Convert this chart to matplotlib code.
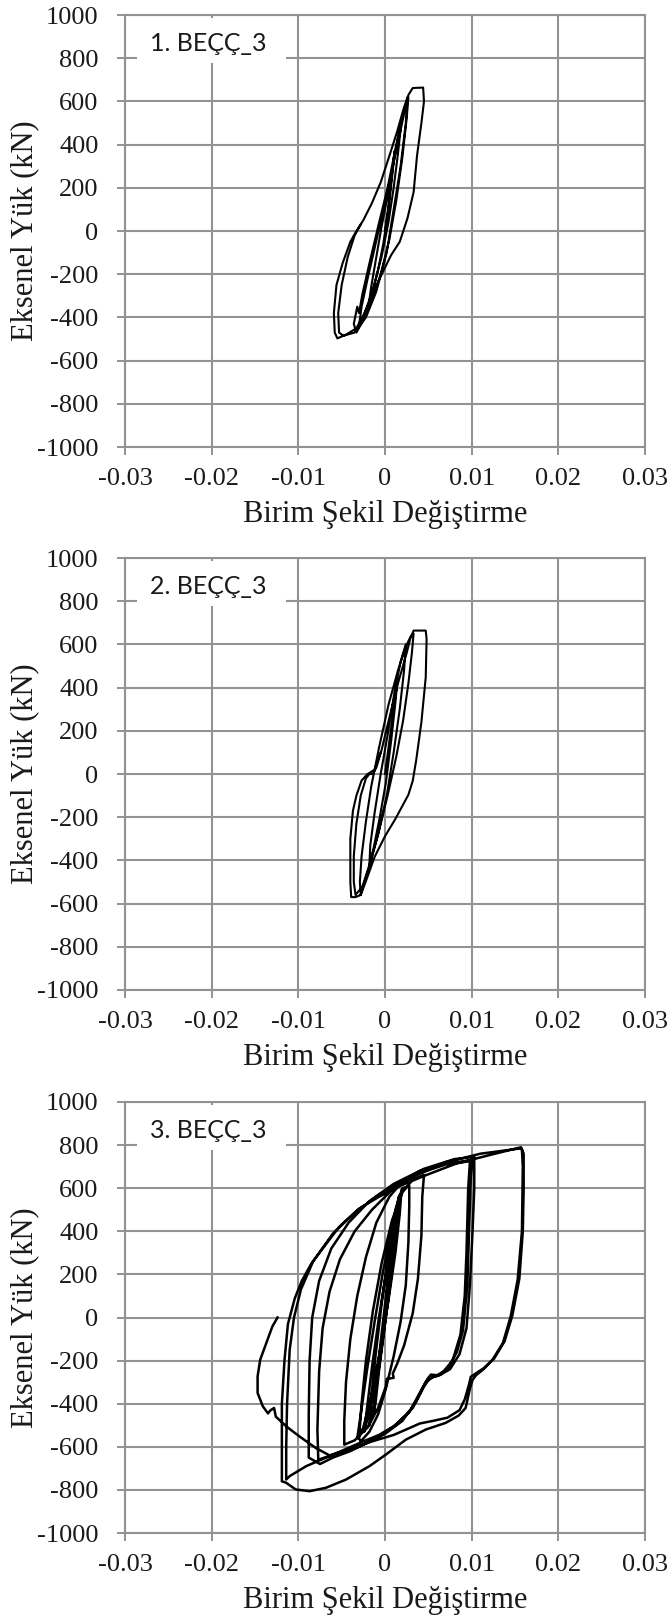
import matplotlib
matplotlib.use("Agg")
import matplotlib.pyplot as plt
from matplotlib.patches import Rectangle

# ---------------------------------------------------------------- data
x_ticks = [-0.03, -0.02, -0.01, 0, 0.01, 0.02, 0.03]
x_tick_labels = ["-0.03", "-0.02", "-0.01", "0", "0.01", "0.02", "0.03"]
y_ticks = [1000, 800, 600, 400, 200, 0, -200, -400, -600, -800, -1000]
y_tick_labels = [str(v) for v in y_ticks]

panel_titles = ["1. BEÇÇ_3", "2. BEÇÇ_3", "3. BEÇÇ_3"]
x_label = "Birim Şekil Değiştirme"
y_label = "Eksenel Yük (kN)"

# specimen 1: strain / axial load history
strain_1 = [0, 0.0004, 0.0008, 0.0011, 0.0009, 0.0004, -0.0002, -0.0008, -0.0014, -0.0019,
            -0.0016, -0.0010, -0.0004, 0.0003, 0.0010, 0.0015, 0.0018, 0.0015, 0.0010, 0.0004,
            -0.0004, -0.0014, -0.0024, -0.0030, -0.0027, -0.0020, -0.0012, -0.0003, 0.0007, 0.0016,
            0.0023, 0.0027, 0.0025, 0.0020, 0.0013, 0.0005, -0.0005, -0.0016, -0.0026, -0.0033,
            -0.0036, -0.0032, -0.0030, -0.0026, -0.0018, -0.0008, 0.0003, 0.0013, 0.0021, 0.0027,
            0.0032, 0.0044, 0.0045, 0.0042, 0.0037, 0.0033, 0.0026, 0.0017, 0.0007, -0.0005,
            -0.0015, -0.0025, -0.0033, -0.0045, -0.0055, -0.0058, -0.0059, -0.0056, -0.0049, -0.0040,
            -0.0033, -0.0025, -0.0015, -0.0005, 0.0004, 0.0014, 0.0021, 0.0026, 0.0024, 0.0018,
            0.0010, 0.0002, -0.0010, -0.0022, -0.0035, -0.0048, -0.0053, -0.0054, -0.0050, -0.0043,
            -0.0035, -0.0028]
load_1 = [0, 120, 260, 370, 280, 100, -60, -180, -280, -350,
          -260, -120, 20, 160, 320, 430, 470, 360, 200, 40,
          -120, -270, -390, -440, -350, -220, -80, 80, 260, 430,
          560, 620, 520, 340, 140, -40, -200, -330, -420, -470,
          -430, -350, -380, -290, -150, 20, 200, 400, 540, 630,
          662, 664, 600, 500, 350, 180, 60, -50, -112, -210,
          -300, -390, -450, -480, -497, -470, -380, -250, -150, -50,
          0, 50, 130, 225, 335, 460, 560, 620, 500, 300,
          100, -100, -280, -400, -470, -485, -470, -380, -250, -120,
          -20, 30]

# specimen 2
strain_2 = [0, 0.0005, 0.0010, 0.0014, 0.0012, 0.0007, 0.0001, -0.0006, -0.0013, -0.0018,
            -0.0017, -0.0012, -0.0005, 0.0003, 0.0011, 0.0018, 0.0024, 0.0022, 0.0017, 0.0010,
            0.0002, -0.0008, -0.0018, -0.0026, -0.0028, -0.0029, -0.0027, -0.0022, -0.0016, -0.0007,
            0.0004, 0.0015, 0.0024, 0.0030, 0.0033, 0.0031, 0.0027, 0.0021, 0.0013, 0.0003,
            -0.0008, -0.0018, -0.0026, -0.0034, -0.0036, -0.0036, -0.0033, -0.0028, -0.0022, -0.0018,
            -0.0014, -0.0010, -0.0004, 0.0005, 0.0015, 0.0025, 0.0029, 0.0033, 0.0047, 0.0048,
            0.0047, 0.0042, 0.0036, 0.0032, 0.0027, 0.0012, 0.0000, -0.0012, -0.0022, -0.0028,
            -0.0034, -0.0039, -0.0040, -0.0040, -0.0037, -0.0033, -0.0027, -0.0020, -0.0012, -0.0005]
load_2 = [0, 150, 300, 420, 330, 150, -40, -200, -340, -420,
          -330, -180, 0, 180, 380, 520, 600, 480, 300, 100,
          -100, -280, -430, -530, -560, -500, -380, -220, -60, 120,
          320, 480, 590, 640, 650, 560, 420, 250, 80, -100,
          -280, -420, -520, -560, -500, -380, -230, -100, -20, 0,
          0, 30, 110, 260, 420, 560, 624, 664, 664, 624,
          448, 240, 64, -32, -96, -208, -288, -384, -496, -560,
          -570, -570, -500, -300, -170, -100, -30, 0, 20, 100]

# specimen 3
strain_3 = [0, 0.0004, 0.0009, 0.0012, 0.0010, 0.0005, -0.0001, -0.0007, -0.0011, -0.0013,
            -0.0011, -0.0006, 0.0000, 0.0006, 0.0012, 0.0016, 0.0013, 0.0007, 0.0000, -0.0008,
            -0.0014, -0.0018, -0.0016, -0.0011, -0.0004, 0.0004, 0.0012, 0.0017, 0.0015, 0.0010,
            0.0003, -0.0006, -0.0015, -0.0022, -0.0024, -0.0021, -0.0015, -0.0007, 0.0003, 0.0012,
            0.0019, 0.0017, 0.0012, 0.0004, -0.0006, -0.0016, -0.0025, -0.0031, -0.0032, -0.0028,
            -0.0021, -0.0012, -0.0002, 0.0008, 0.0016, 0.0020, 0.0028, 0.0028,
            0.0027, 0.0024, 0.0018, 0.0010, 0.0001, -0.0008, -0.0018, -0.0028, -0.0030, -0.0027,
            -0.0022, -0.0014, -0.0004, 0.0008, 0.0020, 0.0032, 0.0045, 0.0043, 0.0042, 0.0038,
            0.0032, 0.0022, 0.0014, 0.0009, 0.0010, 0.0002, 0.0001, -0.0008, -0.0020, -0.0035,
            -0.0047, -0.0047, -0.0045, -0.0040, -0.0032, -0.0022, -0.0010, 0.0005, 0.0020, 0.0040,
            0.0070, 0.0101, 0.0099, 0.0097, 0.0095, 0.0090, 0.0083, 0.0072, 0.0060, 0.0053,
            0.0049, 0.0040, 0.0028, 0.0010, -0.0007, -0.0025, -0.0045, -0.0062, -0.0077, -0.0078,
            -0.0076, -0.0072, -0.0064, -0.0052, -0.0035, -0.0015, 0.0010, 0.0040, 0.0070, 0.0098,
            0.0096, 0.0094, 0.0092, 0.0087, 0.0078, 0.0065, 0.0056, 0.0047, 0.0036, 0.0020,
            0.0000, -0.0020, -0.0040, -0.0060, -0.0075, -0.0088, -0.0088, -0.0087, -0.0084, -0.0076,
            -0.0062, -0.0042, -0.0018, 0.0010, 0.0045, 0.0080, 0.0103, 0.0103, 0.0101, 0.0098,
            0.0094, 0.0086, 0.0075, 0.0062, 0.0052, 0.0045, 0.0032, 0.0012, -0.0010, -0.0030,
            -0.0048, -0.0068, -0.0091, -0.0110, -0.0114, -0.0114, -0.0113, -0.0110, -0.0105, -0.0097,
            -0.0083, -0.0060, -0.0034, -0.0005, 0.0030, 0.0070, 0.0110, 0.0155, 0.0158, 0.0159,
            0.0158, 0.0153, 0.0145, 0.0136, 0.0124, 0.0113, 0.0105, 0.0101, 0.0098, 0.0093,
            0.0085, 0.0070, 0.0047, 0.0024, 0.0001, -0.0018, -0.0045, -0.0068, -0.0087, -0.0103,
            -0.0114, -0.0119, -0.0119, -0.0119, -0.0116, -0.0112, -0.0104, -0.0096, -0.0085, -0.0072,
            -0.0053, -0.0030, -0.0007, 0.0017, 0.0047, 0.0082, 0.0120, 0.0157, 0.0160, 0.0160,
            0.0159, 0.0155, 0.0147, 0.0138, 0.0126, 0.0114, 0.0104, 0.0099, 0.0097, 0.0092,
            0.0086, 0.0072, 0.0055, 0.0040, 0.0030, 0.0010, -0.0015, -0.0040, -0.0064, -0.0080,
            -0.0099, -0.0114, -0.0126, -0.0128, -0.0132, -0.0135, -0.0141, -0.0147, -0.0147, -0.0144,
            -0.0137, -0.0130, -0.0124]
load_3 = [0, 200, 400, 480, 380, 150, -60, -250, -400, -440,
          -330, -150, 60, 280, 470, 560, 420, 200, -30, -260,
          -430, -500, -380, -180, 60, 300, 500, 570, 470, 280,
          60, -180, -380, -500, -530, -430, -230, 0, 250, 450,
          590, 480, 300, 80, -160, -370, -510, -560, -560, -450,
          -250, -20, 220, 420, 540, 600, 610, 520,
          350, 150, -20, -180, -330, -450, -530, -575, -560, -400,
          -200, 30, 250, 450, 580, 640, 662, 560, 380, 180,
          20, -130, -215, -260, -280, -285, -320, -420, -510, -570,
          -590, -480, -300, -100, 100, 280, 440, 560, 630, 680,
          715, 730, 650, 400, 150, -60, -160, -240, -268, -265,
          -285, -350, -440, -505, -545, -575, -610, -640, -660, -520,
          -250, -50, 120, 270, 400, 500, 600, 670, 710, 725,
          600, 300, 100, -80, -200, -262, -275, -300, -390, -480,
          -540, -580, -620, -650, -680, -650, -450, -200, 0, 170,
          320, 440, 540, 620, 690, 735, 745, 600, 400, 150,
          -50, -170, -240, -270, -280, -320, -420, -500, -560, -600,
          -620, -650, -690, -736, -752, -600, -400, -150, 0, 130,
          260, 390, 490, 575, 650, 720, 760, 784, 780, 700,
          400, 174, 5, -119, -196, -242, -268, -290, -330, -420,
          -455, -489, -520, -567, -636, -690, -752, -790, -806, -798,
          -767, -760, -600, -400, -200, -30, 90, 170, 250, 320,
          420, 505, 560, 610, 660, 714, 753, 790, 760, 600,
          400, 180, 10, -110, -190, -235, -262, -275, -310, -380,
          -430, -465, -480, -492, -510, -545, -575, -610, -640, -605,
          -551, -505, -460, -420, -430, -445, -412, -350, -273, -196,
          -119, -42, 0]

histories = [(strain_1, load_1), (strain_2, load_2), (strain_3, load_3)]
line_widths = [1.5, 1.5, 1.8]

# ---------------------------------------------------------------- layout
FIG_W, FIG_H = 670, 1618
fig = plt.figure(figsize=(FIG_W / 100, FIG_H / 100), dpi=100)

# (top, bottom) of each plot frame in pixels
frames = [(15, 447), (558, 990), (1102, 1533)]
left_px, right_px = 125, 645

grid_color = "#929292"
text_color = "#1a1a1a"
serif = ["Liberation Serif", "DejaVu Serif"]

for (top, bottom), title, (sx, ly), lw in zip(frames, panel_titles, histories, line_widths):
    ax = fig.add_axes([left_px / FIG_W, 1 - bottom / FIG_H,
                       (right_px - left_px) / FIG_W, (bottom - top) / FIG_H])
    ax.set_xlim(-0.03, 0.03)
    ax.set_ylim(-1000, 1000)
    ax.set_xticks(x_ticks)
    ax.set_xticklabels(x_tick_labels, family=serif, fontsize=19, color=text_color)
    ax.set_yticks(y_ticks)
    ax.set_yticklabels(y_tick_labels, family=serif, fontsize=19, color=text_color)
    ax.tick_params(axis="both", direction="out", length=6, width=1.4, color=grid_color)
    ax.tick_params(axis="y", pad=13)
    ax.tick_params(axis="x", pad=9)
    ax.grid(True, color=grid_color, linewidth=1.5)
    ax.set_axisbelow(True)
    for sp in ax.spines.values():
        sp.set_color(grid_color)
        sp.set_linewidth(1.5)

    # white label box that interrupts the grid
    ax.add_patch(Rectangle((0.023, 0.889), 0.287, 0.105, transform=ax.transAxes,
                           facecolor="white", edgecolor="none", zorder=1.5))
    ax.text(0.048, 0.935, title, transform=ax.transAxes, fontsize=18,
            family=["Lato", "DejaVu Sans"], color=text_color, va="center", ha="left",
            zorder=3)

    ax.plot(sx, ly, color="black", linewidth=lw, solid_joinstyle="round", zorder=2)

    ax.set_xlabel(x_label, family=serif, fontsize=22, color=text_color, labelpad=7)
    ax.set_ylabel(y_label, family=serif, fontsize=22, color=text_color)
    ax.yaxis.set_label_coords(-0.165, 0.5)

fig.savefig("out.png", dpi=100, facecolor="white")
